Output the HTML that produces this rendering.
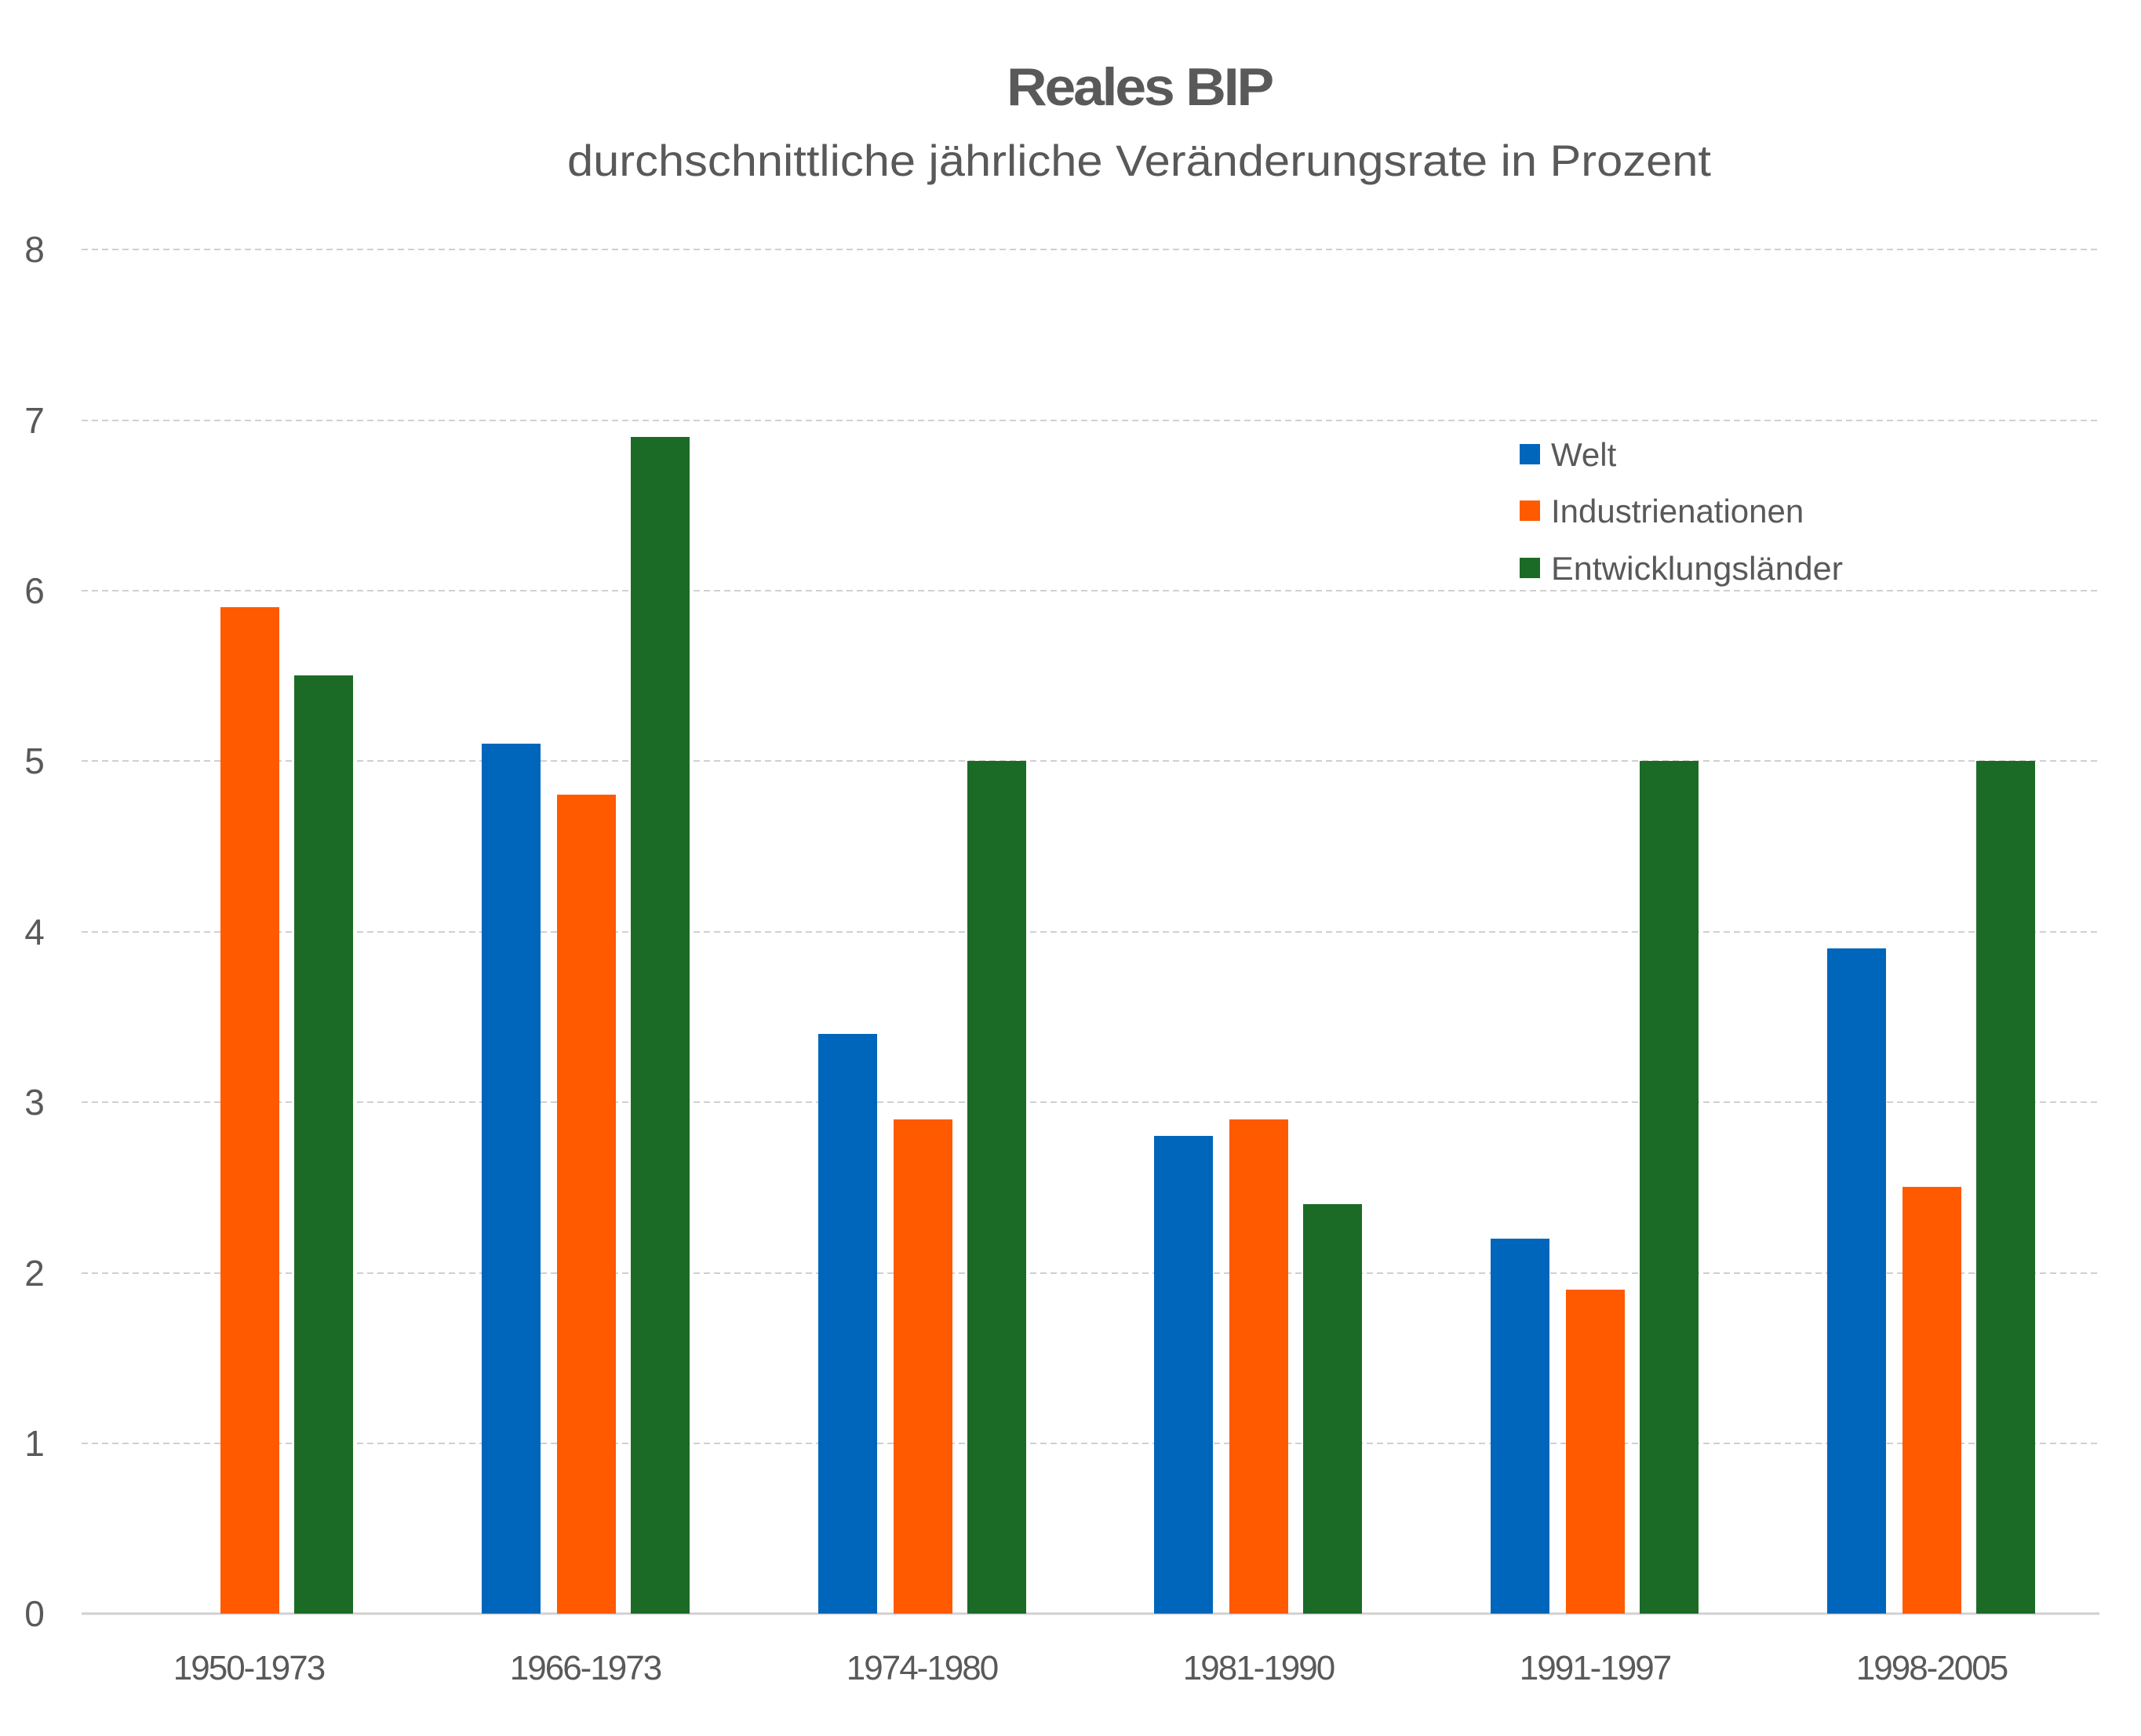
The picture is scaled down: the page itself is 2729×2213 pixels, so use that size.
<!DOCTYPE html>
<html><head><meta charset="utf-8"><style>body{margin:0;background:#fff}</style></head><body>
<svg width="2729" height="2208" xmlns="http://www.w3.org/2000/svg" font-family="Liberation Sans, sans-serif" fill="#595959">
<text x="1452" y="134" font-size="68" font-weight="bold" text-anchor="middle" letter-spacing="-3" textLength="338" lengthAdjust="spacingAndGlyphs">Reales BIP</text>
<text x="1452" y="224" font-size="56" text-anchor="middle" textLength="1458" lengthAdjust="spacingAndGlyphs">durchschnittliche jährliche Veränderungsrate in Prozent</text>
<g stroke="#d0d0d0" stroke-width="2" stroke-dasharray="8,5">
<line x1="104" x2="2676" y1="318" y2="318"/><line x1="104" x2="2676" y1="536" y2="536"/>
<line x1="104" x2="2676" y1="753" y2="753"/><line x1="104" x2="2676" y1="970" y2="970"/>
<line x1="104" x2="2676" y1="1188" y2="1188"/><line x1="104" x2="2676" y1="1405" y2="1405"/>
<line x1="104" x2="2676" y1="1623" y2="1623"/><line x1="104" x2="2676" y1="1840" y2="1840"/>
</g>
<line x1="104" x2="2676" y1="2057" y2="2057" stroke="#d0d0d0" stroke-width="3"/>
<g font-size="46" text-anchor="middle">
<text x="44" y="334">8</text><text x="44" y="552">7</text><text x="44" y="769">6</text><text x="44" y="986">5</text>
<text x="44" y="1204">4</text><text x="44" y="1421">3</text><text x="44" y="1639">2</text><text x="44" y="1856">1</text><text x="44" y="2073">0</text>
</g>
<g>
<rect x="281" y="774" width="75" height="1283" fill="#FF5A00"/>
<rect x="375" y="861" width="75" height="1196" fill="#1B6B27"/>

<rect x="614" y="948" width="75" height="1109" fill="#0066BB"/>
<rect x="710" y="1013" width="75" height="1044" fill="#FF5A00"/>
<rect x="804" y="557" width="75" height="1500" fill="#1B6B27"/>

<rect x="1043" y="1318" width="75" height="739" fill="#0066BB"/>
<rect x="1139" y="1427" width="75" height="630" fill="#FF5A00"/>
<rect x="1233" y="970" width="75" height="1087" fill="#1B6B27"/>

<rect x="1471" y="1448" width="75" height="609" fill="#0066BB"/>
<rect x="1567" y="1427" width="75" height="630" fill="#FF5A00"/>
<rect x="1661" y="1535" width="75" height="522" fill="#1B6B27"/>

<rect x="1900" y="1579" width="75" height="478" fill="#0066BB"/>
<rect x="1996" y="1644" width="75" height="413" fill="#FF5A00"/>
<rect x="2090" y="970" width="75" height="1087" fill="#1B6B27"/>

<rect x="2329" y="1209" width="75" height="848" fill="#0066BB"/>
<rect x="2425" y="1513" width="75" height="544" fill="#FF5A00"/>
<rect x="2519" y="970" width="75" height="1087" fill="#1B6B27"/>
</g>
<g font-size="44" text-anchor="middle" letter-spacing="-2">
<text x="317" y="2141">1950-1973</text><text x="746" y="2141">1966-1973</text><text x="1175" y="2141">1974-1980</text>
<text x="1604" y="2141">1981-1990</text><text x="2033" y="2141">1991-1997</text><text x="2462" y="2141">1998-2005</text>
</g>
<rect x="1937" y="566" width="26" height="26" fill="#0066BB"/>
<rect x="1937" y="638" width="26" height="26" fill="#FF5A00"/>
<rect x="1937" y="711" width="26" height="26" fill="#1B6B27"/>
<g font-size="42">
<text x="1977" y="594">Welt</text><text x="1977" y="666">Industrienationen</text><text x="1977" y="739" textLength="372" lengthAdjust="spacingAndGlyphs">Entwicklungsländer</text>
</g>
</svg>
</body></html>
